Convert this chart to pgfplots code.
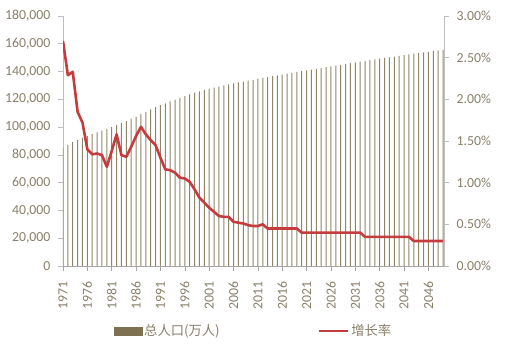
\documentclass[border=0pt]{standalone}
\usepackage{pgfplots}
\pgfplotsset{compat=1.18}
\usepackage{pgfplotstable}
\usepackage{fontspec}
\setmainfont{Carlito}
\newfontfamily\cjk{Noto Sans CJK SC}
\definecolor{barc}{RGB}{125,113,82}
\definecolor{barl}{RGB}{145,133,103}
\definecolor{linec}{RGB}{196,60,62}
\definecolor{tickc}{RGB}{137,128,106}
\definecolor{axc}{RGB}{190,190,190}
\pgfplotstableread{
year pop rate
1971 85229 2.70
1972 87177 2.29
1973 89211 2.33
1974 90859 1.85
1975 92420 1.72
1976 93717 1.40
1977 94974 1.34
1978 96259 1.35
1979 97542 1.33
1980 98705 1.19
1981 100072 1.38
1982 101654 1.58
1983 103008 1.33
1984 104357 1.31
1985 105851 1.43
1986 107507 1.56
1987 109300 1.67
1988 111026 1.58
1989 112704 1.51
1990 114333 1.45
1991 115823 1.30
1992 117171 1.16
1993 118517 1.15
1994 119850 1.12
1995 121121 1.06
1996 122389 1.05
1997 123626 1.01
1998 124761 0.92
1999 125786 0.82
2000 126743 0.76
2001 127627 0.70
2002 128453 0.65
2003 129227 0.60
2004 129988 0.59
2005 130756 0.59
2006 131448 0.53
2007 132129 0.52
2008 132802 0.51
2009 133450 0.49
2010 134091 0.48
2011 134735 0.48
2012 135404 0.50
2013 136013 0.45
2014 136625 0.45
2015 137240 0.45
2016 137858 0.45
2017 138478 0.45
2018 139101 0.45
2019 139727 0.45
2020 140286 0.40
2021 140847 0.40
2022 141411 0.40
2023 141976 0.40
2024 142544 0.40
2025 143114 0.40
2026 143687 0.40
2027 144262 0.40
2028 144839 0.40
2029 145418 0.40
2030 146000 0.40
2031 146584 0.40
2032 147170 0.40
2033 147685 0.35
2034 148202 0.35
2035 148721 0.35
2036 149241 0.35
2037 149764 0.35
2038 150288 0.35
2039 150814 0.35
2040 151342 0.35
2041 151871 0.35
2042 152403 0.35
2043 152860 0.30
2044 153319 0.30
2045 153779 0.30
2046 154240 0.30
2047 154703 0.30
2048 155167 0.30
2049 155633 0.30
}\datatable
\begin{document}
\begin{tikzpicture}
\useasboundingbox (-63pt,-88pt) rectangle (449pt,266pt);
\pgfplotsset{
  common/.style={
    scale only axis, width=381pt, height=250pt,
    xmin=1971, xmax=2049.2,
    tick align=outside,
    major tick length=5pt,
    tick style={color=axc, line width=0.6pt},
    axis line style={-, color=axc, line width=0.8pt},
    ticklabel style={font=\fontsize{13.8}{16}\selectfont, text=tickc},
    yticklabel shift=4pt,
    /pgf/number format/assume math mode=true,
  }
}
\begin{axis}[common,
  axis x line*=bottom, axis y line*=left,
  ymin=0, ymax=180000, ytick={0,20000,...,180000},
  yticklabel style={/pgf/number format/.cd, fixed, 1000 sep={,}},
  scaled y ticks=false,
  xtick={1971,1976,...,2046},
  xticklabel shift=7pt,
  xticklabel style={rotate=90, anchor=east, /pgf/number format/1000 sep={}},
  x axis line style={color=gray!70},
  xtick style={color=gray!70},
]
\addplot[ybar, bar width=1pt, fill=barl, draw=none] table[x=year, y=pop] {\datatable};
\end{axis}
\begin{axis}[common,
  axis x line=none, axis y line*=right,
  ymin=0, ymax=3, ytick={0,0.5,...,3},
  yticklabel={\pgfmathprintnumber[fixed, fixed zerofill, precision=2]{\tick}\%},
  legend columns=2,
  legend style={at={(0.5,-0.26)}, anchor=center, draw=none, fill=none,
    font=\cjk\fontsize{13.3}{16}\selectfont, text=tickc,
    /tikz/every even column/.append style={column sep=96pt}},
  legend cell align=left,
]
\addlegendimage{legend image code/.code={\fill[barc] (0pt,-4pt) rectangle (28pt,4pt);}}
\addlegendentry{总人口(万人)}
\addplot[color=linec, line width=2.6pt, line join=round, mark=none,
  legend image code/.code={\draw[linec, line width=2.6pt] (0pt,0pt) -- (29pt,0pt);}]
  table[x=year, y=rate] {\datatable};
\addlegendentry{增长率}
\end{axis}
\end{tikzpicture}
\end{document}
